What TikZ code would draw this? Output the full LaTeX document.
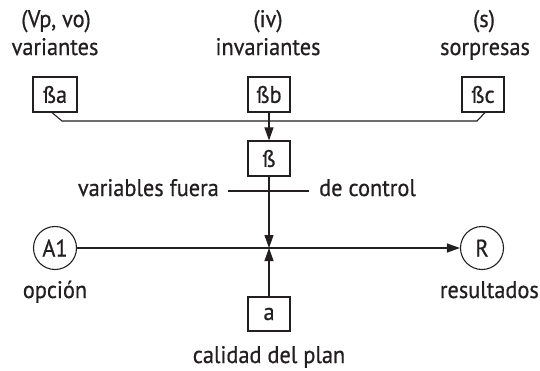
\documentclass[tikz,border=0pt]{standalone}
\usepackage{fontspec}
\setmainfont{PT Sans}[FakeStretch=0.93,FakeBold=0.6]
\usetikzlibrary{arrows.meta,calc}
\definecolor{ink}{HTML}{231F20}
\begin{document}
\begin{tikzpicture}[x=1pt,y=-1pt,
  every node/.style={text=ink,font=\fontsize{24}{28}\selectfont},
  lbl/.style={anchor=base,inner sep=0pt},
  sqbox/.style={draw=ink,line width=1.1pt,minimum width=42pt,minimum height=35pt,inner sep=0pt},
  circ/.style={draw=ink,line width=1.1pt,circle,minimum size=43pt,inner sep=0pt},
  conn/.style={draw=ink,line width=1.1pt},
  arr/.style={conn,-{Triangle[length=13pt,width=9pt]}}]
\useasboundingbox (0,0) rectangle (540,370);
% top labels
\node[lbl] (t1) at (56,27) {(Vp, vo)};
\node[lbl] (t2) at (55,55) {variantes};
\node[lbl] (t3) at (268,27) {(iv)};
\node[lbl] (t4) at (268,55) {invariantes};
\node[lbl] (t5) at (484,27) {(s)};
\node[lbl] (t6) at (485,55) {sorpresas};
% boxes
\node[sqbox,minimum width=44pt] (Ba) at (55,94.5) {ßa};
\node[sqbox] (Bb) at (269,94.5) {ßb};
\node[sqbox] (Bc) at (483,94.5) {ßc};
\node[sqbox] (B) at (269,158.5) {ß};
\node[sqbox,minimum height=34pt] (a) at (269,314) {a};
% circles
\node[circ] (A1) at (55,248) {A1};
\node[circ] (R) at (482,248) {R};
% other labels
\node[lbl,anchor=base east] (vf) at (219,196) {variables fuera};
\node[lbl,anchor=base west] (dc) at (319,196) {de control};
\node[lbl] (op) at (55,298) {opción};
\node[lbl,anchor=base east] (res) at (539,298) {resultados};
\node[lbl] (cal) at (269,363) {calidad del plan};
% connectors
\coordinate (bl) at (62,121);
\coordinate (br) at (477,121);
\coordinate (J) at (269,248);
\draw[conn] ([xshift=-3pt]Ba.south) -- (bl) -- (br) -- ([xshift=2pt]Bc.south);
\draw[arr] (Bb) -- (B);
\draw[arr] (B) -- (J);
\draw[arr] (a) -- (J);
\draw[arr] (A1) -- (R);
\draw[conn] ($(vf.base east)+(9,-5)$) -- ($(dc.base west)+(-10,-5)$);
\end{tikzpicture}
\end{document}
